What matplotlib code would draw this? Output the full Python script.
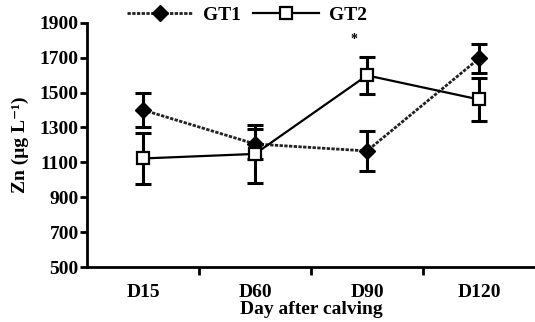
import matplotlib
matplotlib.use("Agg")
import matplotlib.pyplot as plt

# data
days = ["D15", "D60", "D90", "D120"]
gt1 = [1400, 1205, 1165, 1695]
gt1_err = [98, 88, 115, 85]
gt2 = [1122, 1148, 1598, 1460]
gt2_err = [145, 165, 105, 122]

serif = ["Liberation Serif", "DejaVu Serif"]
plt.rcParams["font.family"] = serif
plt.rcParams["font.weight"] = "bold"
fs = 14

fig = plt.figure(figsize=(5.35, 3.22), dpi=100)
ax = fig.add_axes([0.1626, 0.1708, 0.8374, 0.7587])

x = list(range(len(days)))

ax.errorbar(x, gt1, yerr=gt1_err, color="black", ecolor="black",
            elinewidth=2.2, capsize=5.8, capthick=2.2, ls="none", zorder=2)
ax.plot(x, gt1, color="#222222", lw=2.0, ls=(0, (1.2, 0.5)),
        marker="D", ms=8, mfc="black", mec="black", zorder=3, label="GT1")

ax.errorbar(x, gt2, yerr=gt2_err, color="black", ecolor="black",
            elinewidth=2.2, capsize=5.8, capthick=2.2, ls="none", zorder=4)
ax.plot(x, gt2, color="black", lw=1.6, ls="-",
        marker="s", ms=8.5, mfc="white", mec="black", mew=1.6, zorder=5,
        label="GT2")

# significance mark at D90
ax.text(1.88, 1805, "*", ha="center", va="center", fontsize=10,
        fontweight="bold")

ax.set_xlim(-0.5, 3.5)
ax.set_ylim(500, 1900)
ax.set_yticks(range(500, 1901, 200))
ax.set_xticks(x)
ax.set_xticklabels(days)
ax.set_xticks([0.5, 1.5, 2.5], minor=True)
ax.tick_params(axis="x", which="major", length=0, pad=12, labelsize=fs)
ax.tick_params(axis="x", which="minor", direction="out", length=6, width=2)
ax.tick_params(axis="y", direction="out", length=5, width=2, labelsize=fs,
               pad=1)

for s in ("top", "right"):
    ax.spines[s].set_visible(False)
for s in ("left", "bottom"):
    ax.spines[s].set_linewidth(2)

ax.set_ylabel("Zn (μg L⁻¹)", fontsize=fs, fontweight="bold", labelpad=8)
ax.set_xlabel("Day after calving", fontsize=fs, fontweight="bold",
              labelpad=0)

leg = ax.legend(loc="center left", bbox_to_anchor=(0.238, 0.952),
                bbox_transform=fig.transFigure, ncol=2, frameon=False,
                handlelength=3.4, handletextpad=0.5, columnspacing=0.6,
                fontsize=fs, borderaxespad=0, borderpad=0)

fig.savefig("out.png", dpi=100)
